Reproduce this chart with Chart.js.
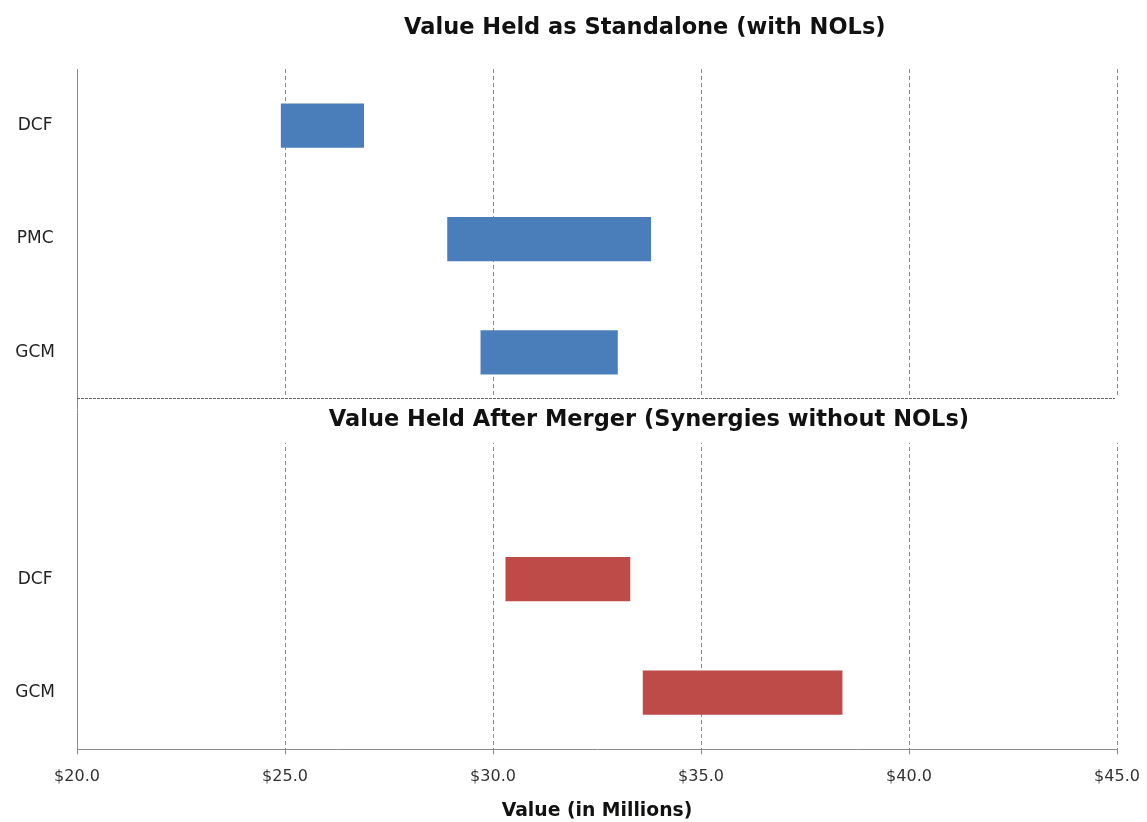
<!DOCTYPE html>
<html>
<head>
<meta charset="utf-8">
<script src="https://cdn.jsdelivr.net/npm/chart.js@4/dist/chart.umd.min.js"></script>
<style>
  html, body { margin: 0; padding: 0; background: #fff; }
  #wrap { width: 1147px; height: 822px; position: relative; }
</style>
</head>
<body>
<div id="wrap"><canvas id="chart"></canvas></div>
<script>
// Categories (blank slot separates the two sections)
const categories = ['DCF', 'PMC', 'GCM', '', 'DCF', 'GCM'];

// Standalone (with NOLs) ranges, $ millions
const standaloneLow = [24.9, 28.9, 29.7];
const standaloneHigh = [26.9, 33.8, 33.0];

// After merger (synergies without NOLs) ranges, $ millions
const mergerLow = [30.3, 33.6];
const mergerHigh = [33.3, 38.4];

// Axis ticks
const xTicks = [20, 25, 30, 35, 40, 45];

const topTitle = 'Value Held as Standalone (with NOLs)';
const midTitle = 'Value Held After Merger (Synergies without NOLs)';
const xTitle = 'Value (in Millions)';

const FONT = '"DejaVu Sans", Verdana, sans-serif';

// build floating bar data
const blueData = categories.map((c, i) => i < 3 ? [standaloneLow[i], standaloneHigh[i]] : null);
const redData = categories.map((c, i) => i >= 4 ? [mergerLow[i - 4], mergerHigh[i - 4]] : null);

// --- section titles + separator ---
const sectionPlugin = {
    id: 'sections',
    beforeDatasetsDraw(chart) {
        const { ctx, chartArea, scales } = chart;
        const y2 = scales.y.getPixelForValue(2);
        const y3 = scales.y.getPixelForValue(3);
        const step = y3 - y2;
        const sepY = Math.round(y2 + step * 0.4) + 0.5;

        ctx.save();
        // break the grid lines behind the second title
        ctx.fillStyle = '#ffffff';
        ctx.fillRect(chartArea.left + 1, sepY - 1, chartArea.right - chartArea.left + 4, step * 0.4);

        // dotted separator
        ctx.strokeStyle = '#666666';
        ctx.lineWidth = 1;
        ctx.setLineDash([3, 1]);
        ctx.beginPath();
        ctx.moveTo(chartArea.left, sepY);
        ctx.lineTo(chartArea.right - 2, sepY);
        ctx.stroke();
        ctx.restore();
    },
    afterDraw(chart) {
        const { ctx, chartArea, scales } = chart;
        const w = chartArea.right - chartArea.left;
        const y2 = scales.y.getPixelForValue(2);
        const y3 = scales.y.getPixelForValue(3);
        const step = y3 - y2;

        ctx.save();
        ctx.fillStyle = '#111111';
        ctx.font = 'bold 22.5px ' + FONT;
        ctx.textAlign = 'center';
        ctx.textBaseline = 'middle';
        ctx.fillText(topTitle, chartArea.left + w * 0.546, chartArea.top - 41);
        ctx.fillText(midTitle, chartArea.left + w * 0.55, y2 + step * 0.6);
        ctx.restore();
    }
};

new Chart(document.getElementById('chart').getContext('2d'), {
    type: 'bar',
    data: {
        labels: categories,
        datasets: [{
            label: 'Standalone',
            data: blueData,
            backgroundColor: '#4A7EBB',
            grouped: false,
            barPercentage: 0.39,
            categoryPercentage: 1.0
        }, {
            label: 'After Merger',
            data: redData,
            backgroundColor: '#BE4B48',
            grouped: false,
            barPercentage: 0.39,
            categoryPercentage: 1.0
        }]
    },
    options: {
        indexAxis: 'y',
        responsive: true,
        maintainAspectRatio: false,
        animation: false,
        layout: {
            padding: { top: 69, right: 30, bottom: 0, left: 0 }
        },
        plugins: {
            legend: { display: false },
            tooltip: { enabled: false }
        },
        scales: {
            x: {
                type: 'linear',
                min: 20,
                max: 45,
                afterBuildTicks(scale) {
                    scale.ticks = xTicks.map(v => ({ value: v }));
                },
                afterFit(scale) {
                    scale.paddingLeft = 0;
                    scale.paddingRight = 0;
                },
                ticks: {
                    color: '#333333',
                    font: { family: FONT, size: 16 },
                    padding: 13,
                    callback: v => '$' + Number(v).toFixed(1)
                },
                grid: {
                    color: '#8a8a8a',
                    tickBorderDash: [],
                    tickLength: 5,
                    tickColor: '#8a8a8a'
                },
                border: { display: true, color: '#8a8a8a', width: 1, dash: [4, 3] },
                title: {
                    display: true,
                    text: xTitle,
                    color: '#111111',
                    font: { family: FONT, size: 18.8, weight: 'bold' },
                    padding: { top: 0, bottom: 0 }
                }
            },
            y: {
                type: 'category',
                afterFit(scale) { scale.width = 77; },
                ticks: {
                    color: '#222222',
                    font: { family: FONT, size: 17 },
                    crossAlign: 'center',
                    padding: 14
                },
                grid: { display: false },
                border: { display: true, color: '#8a8a8a', width: 1 }
            }
        }
    },
    plugins: [sectionPlugin]
});
</script>
</body>
</html>
